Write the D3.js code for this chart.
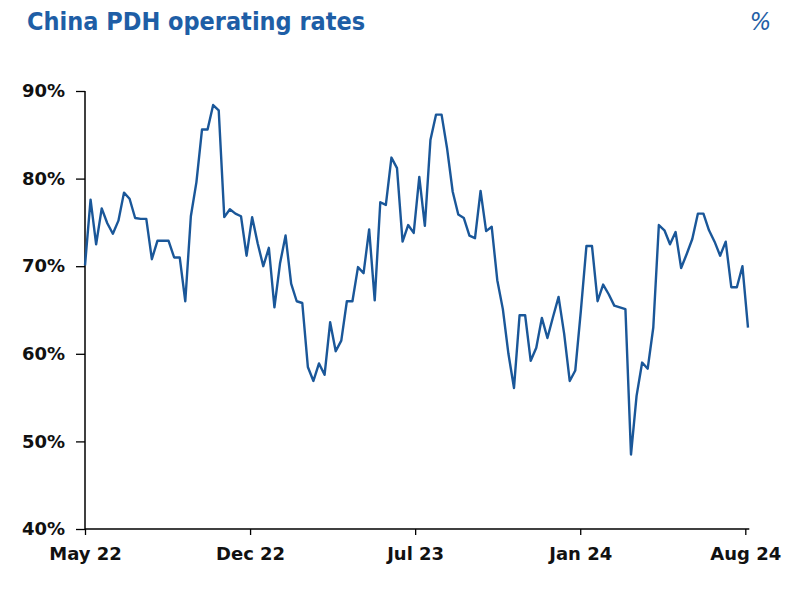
<!DOCTYPE html>
<html>
<head>
<meta charset="utf-8">
<script src="https://cdn.jsdelivr.net/npm/d3@7"></script>
<style>
  body { margin: 0; background: #fff; }
  svg { display: block; }
</style>
</head>
<body>
<div id="chart"></div>
<script>
// weekly operating rates, %
var rates = [
  70.1, 77.6, 72.5, 76.6, 74.9, 73.7, 75.2, 78.4, 77.7, 75.5,
  75.4, 75.4, 70.8, 72.9, 72.9, 72.9, 71.0, 71.0, 66.0, 75.7,
  79.6, 85.6, 85.6, 88.4, 87.8, 75.6, 76.5, 76.0, 75.7, 71.2,
  75.6, 72.6, 70.0, 72.1, 65.3, 70.3, 73.5, 68.0, 66.0, 65.8,
  58.5, 56.9, 58.9, 57.6, 63.6, 60.3, 61.5, 66.0, 66.0, 69.9,
  69.2, 74.2, 66.1, 77.3, 77.0, 82.4, 81.2, 72.8, 74.7, 73.8,
  80.2, 74.6, 84.4, 87.3, 87.3, 83.4, 78.5, 75.9, 75.5, 73.5,
  73.2, 78.6, 74.0, 74.5, 68.4, 65.1, 60.0, 56.1, 64.4, 64.4,
  59.2, 60.7, 64.1, 61.8, 64.2, 66.5, 62.3, 56.9, 58.1, 64.9,
  72.3, 72.3, 66.0, 67.9, 66.8, 65.5, 65.3, 65.1, 48.5, 55.2,
  59.0, 58.3, 63.0, 74.7, 74.1, 72.5, 73.9, 69.8, 71.4, 73.1,
  76.0, 76.0, 74.1, 72.8, 71.2, 72.8, 67.6, 67.6, 70.0, 63.0
];
var xTickLabels = ['May 22', 'Dec 22', 'Jul 23', 'Jan 24', 'Aug 24'];
var yTicks = [40, 50, 60, 70, 80, 90];

var width = 796, height = 596;
var blue = '#1e5ea6', lineBlue = '#1a5799';
var axisFont = '"DejaVu Sans", Verdana, sans-serif';

var svg = d3.select('#chart').append('svg')
    .attr('width', width)
    .attr('height', height);

var x = d3.scaleLinear().domain([0, rates.length - 1]).range([85, 748]);
var xTicks = d3.scalePoint().domain(xTickLabels).range([85, 745.3]);
var y = d3.scaleLinear().domain([40, 90]).range([529, 91]);

// title and unit
svg.append('text')
    .attr('x', 27).attr('y', 30)
    .style('font-family', '"DejaVu Sans Condensed", "DejaVu Sans", sans-serif')
    .style('font-weight', 'bold')
    .style('font-size', '25px')
    .style('fill', blue)
    .text('China PDH operating rates');

svg.append('text')
    .attr('x', 771).attr('y', 30)
    .attr('text-anchor', 'end')
    .style('font-family', '"DejaVu Sans Condensed", "DejaVu Sans", sans-serif')
    .style('font-style', 'italic')
    .style('font-size', '25px')
    .style('fill', blue)
    .text('%');

// y axis
var yAxis = svg.append('g')
    .attr('transform', 'translate(85,0)')
    .call(d3.axisLeft(y).tickValues(yTicks).tickSize(9).tickPadding(11)
      .tickFormat(function(d) { return d + '%'; }));

// x axis
var xAxis = svg.append('g')
    .attr('transform', 'translate(0,529)')
    .call(d3.axisBottom(xTicks).tickSize(6).tickPadding(12));
xAxis.select('.domain').attr('d', 'M85,0H749.3');

[yAxis, xAxis].forEach(function(g) {
  g.select('.domain').attr('stroke', '#000').attr('stroke-width', 1.5);
  g.selectAll('.tick line').attr('stroke', '#000').attr('stroke-width', 1.3);
  g.selectAll('.tick text')
    .style('font-family', axisFont)
    .style('font-weight', 'bold')
    .style('font-size', '18px')
    .style('fill', '#111');
});
yAxis.select('.domain').attr('d', 'M0,529V91');

// line
var line = d3.line()
    .x(function(d, i) { return x(i); })
    .y(function(d) { return y(d); });

svg.append('path')
    .datum(rates)
    .attr('d', line)
    .style('fill', 'none')
    .attr('stroke', lineBlue)
    .attr('stroke-width', 2.4)
    .attr('stroke-linejoin', 'round');
</script>
</body>
</html>
